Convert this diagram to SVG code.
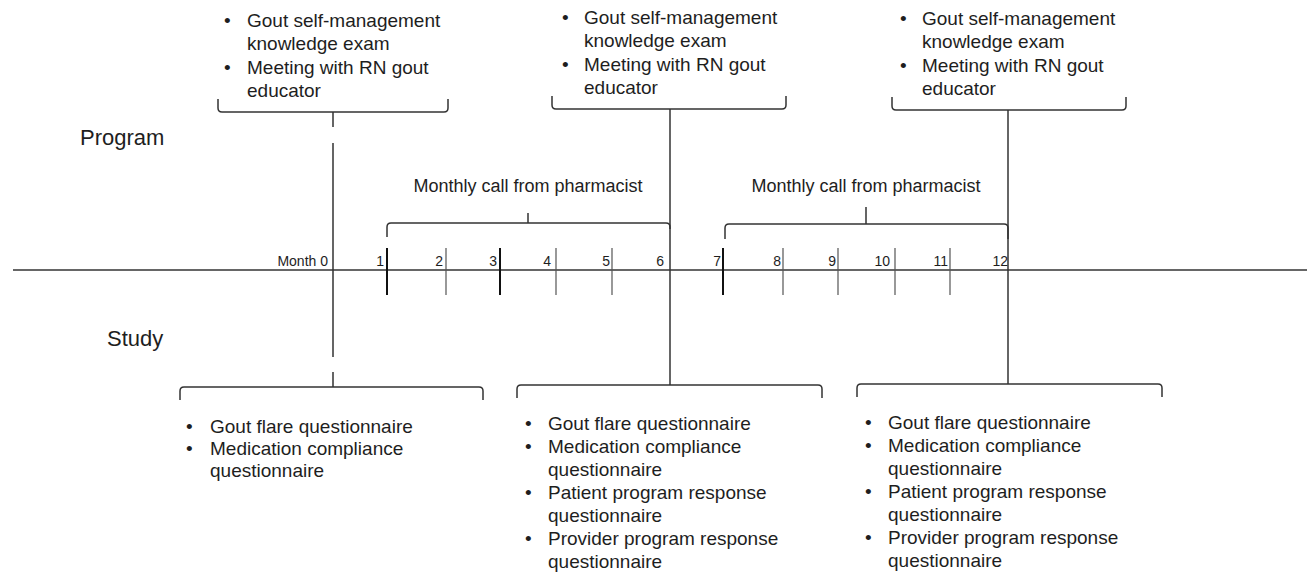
<svg xmlns="http://www.w3.org/2000/svg" width="1314" height="583" viewBox="0 0 1314 583">
<style>
text{font-family:"Liberation Sans",Arial,sans-serif;fill:#1e1e1e}
.b{font-size:19px}
.m{font-size:18px}
.lab{font-size:22px}
.n{font-size:14px;text-anchor:end}
.ln{fill:none;stroke:#333;stroke-width:1.5}
.thin{fill:none;stroke:#555;stroke-width:1.2}
.bold{fill:none;stroke:#111;stroke-width:2}
</style>
<rect width="1314" height="583" fill="#fff"/>
<text class="lab" x="80" y="145">Program</text>
<text class="lab" x="107" y="346">Study</text>

<g id="connectors">
<path class="ln" d="M13,270 H1307"/>
<path class="ln" d="M333,112 V127 M333,143 V357 M333,372 V387"/>
<path class="ln" d="M670,109 V385"/>
<path class="ln" d="M1008,110 V384"/>
<path class="bold" d="M387,248 V295 M500,248 V295 M723,248 V295"/>
<path class="thin" d="M446,248 V295 M556,248 V295 M612,248 V295 M783,248 V295 M838,248 V295 M895,248 V295 M950,248 V295"/>
</g>

<g id="months">
<text class="n" x="328" y="266">Month 0</text>
<text class="n" x="384" y="266">1</text>
<text class="n" x="443" y="266">2</text>
<text class="n" x="497" y="266">3</text>
<text class="n" x="551" y="266">4</text>
<text class="n" x="610" y="266">5</text>
<text class="n" x="664" y="266">6</text>
<text class="n" x="721" y="266">7</text>
<text class="n" x="781" y="266">8</text>
<text class="n" x="836" y="266">9</text>
<text class="n" x="890" y="266">10</text>
<text class="n" x="948" y="266">11</text>
<text class="n" x="1008" y="266">12</text>
</g>

<g id="call1">
<path class="ln" d="M387,237 V227 Q387,223 391,223 H666 Q670,223 670,227 V229 M528,223 V213"/>
<text class="m" x="528" y="192" text-anchor="middle">Monthly call from pharmacist</text>
</g>
<g id="call2">
<path class="ln" d="M725,239 V228 Q725,224 729,224 H1004 Q1008,224 1008,228 V239 M866,224 V207"/>
<text class="m" x="866" y="192" text-anchor="middle">Monthly call from pharmacist</text>
</g>

<g id="prog0">
<path class="ln" d="M218,99 V108 Q218,112 222,112 H444 Q448,112 448,108 V99"/>
<text class="b" x="224" y="27">•</text><text class="b" x="247" y="27">Gout self-management</text>
<text class="b" x="247" y="50">knowledge exam</text>
<text class="b" x="224" y="74">•</text><text class="b" x="247" y="74">Meeting with RN gout</text>
<text class="b" x="247" y="97">educator</text>
</g>
<g id="prog6">
<path class="ln" d="M552,96 V105 Q552,109 556,109 H782 Q786,109 786,105 V96"/>
<text class="b" x="562" y="24">•</text><text class="b" x="584" y="24">Gout self-management</text>
<text class="b" x="584" y="47">knowledge exam</text>
<text class="b" x="562" y="71">•</text><text class="b" x="584" y="71">Meeting with RN gout</text>
<text class="b" x="584" y="94">educator</text>
</g>
<g id="prog12">
<path class="ln" d="M892,97 V106 Q892,110 896,110 H1122 Q1126,110 1126,106 V97"/>
<text class="b" x="900" y="25">•</text><text class="b" x="922" y="25">Gout self-management</text>
<text class="b" x="922" y="48">knowledge exam</text>
<text class="b" x="900" y="72">•</text><text class="b" x="922" y="72">Meeting with RN gout</text>
<text class="b" x="922" y="95">educator</text>
</g>

<g id="study0">
<path class="ln" d="M180,400 V391 Q180,387 184,387 H479 Q483,387 483,391 V400"/>
<text class="b" x="186" y="433">•</text><text class="b" x="210" y="433">Gout flare questionnaire</text>
<text class="b" x="186" y="455">•</text><text class="b" x="210" y="455">Medication compliance</text>
<text class="b" x="210" y="477">questionnaire</text>
</g>
<g id="study6">
<path class="ln" d="M517,398 V389 Q517,385 521,385 H818 Q822,385 822,389 V398"/>
<text class="b" x="525" y="430">•</text><text class="b" x="548" y="430">Gout flare questionnaire</text>
<text class="b" x="525" y="453">•</text><text class="b" x="548" y="453">Medication compliance</text>
<text class="b" x="548" y="476">questionnaire</text>
<text class="b" x="525" y="499">•</text><text class="b" x="548" y="499">Patient program response</text>
<text class="b" x="548" y="522">questionnaire</text>
<text class="b" x="525" y="545">•</text><text class="b" x="548" y="545">Provider program response</text>
<text class="b" x="548" y="568">questionnaire</text>
</g>
<g id="study12">
<path class="ln" d="M857,397 V388 Q857,384 861,384 H1158 Q1162,384 1162,388 V397"/>
<text class="b" x="865" y="429">•</text><text class="b" x="888" y="429">Gout flare questionnaire</text>
<text class="b" x="865" y="452">•</text><text class="b" x="888" y="452">Medication compliance</text>
<text class="b" x="888" y="475">questionnaire</text>
<text class="b" x="865" y="498">•</text><text class="b" x="888" y="498">Patient program response</text>
<text class="b" x="888" y="521">questionnaire</text>
<text class="b" x="865" y="544">•</text><text class="b" x="888" y="544">Provider program response</text>
<text class="b" x="888" y="567">questionnaire</text>
</g>
</svg>
